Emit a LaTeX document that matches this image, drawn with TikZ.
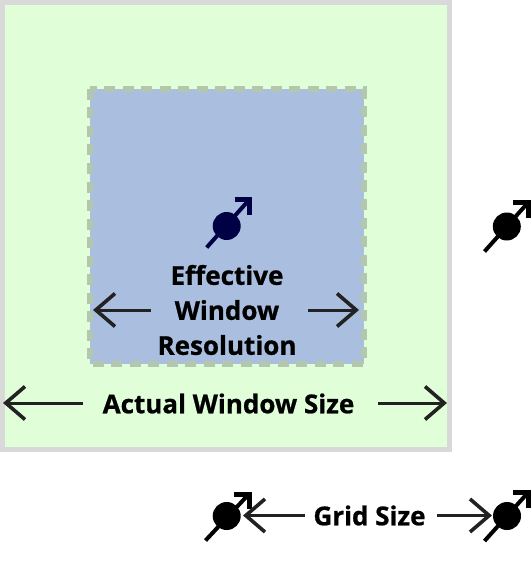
\documentclass[tikz,border=0pt]{standalone}
\usepackage{fontspec}
\setmainfont{Open Sans}[BoldFeatures={FakeBold=0.8}]
\usetikzlibrary{arrows.meta}
\definecolor{winfill}{HTML}{E0FFD8}
\definecolor{winedge}{HTML}{D9D9D9}
\definecolor{effill}{HTML}{AABFE0}
\definecolor{efedge}{HTML}{B3C7AE}
\definecolor{navy}{HTML}{000044}
\definecolor{ink}{HTML}{222222}
\pgfdeclarearrow{
  name=OpenVee,
  setup code={
    \pgfarrowssettipend{0pt}
    \pgfarrowssetlineend{-3pt}
    \pgfarrowssetbackend{-23pt}
    \pgfarrowssetvisualbackend{-3pt}
    \pgfarrowshullpoint{0pt}{0pt}
    \pgfarrowshullpoint{-23pt}{17pt}
    \pgfarrowshullpoint{-23pt}{-17pt}
  },
  drawing code={
    \pgfsetdash{}{0pt}
    \pgfsetmiterjoin
    \pgfsetbuttcap
    \pgfsetlinewidth{3.6pt}
    \pgfpathmoveto{\pgfpoint{-22pt}{16.5pt}}
    \pgfpathlineto{\pgfpoint{-2.8pt}{0pt}}
    \pgfpathlineto{\pgfpoint{-22pt}{-16.5pt}}
    \pgfusepathqstroke
  },
}
\tikzset{
  x=1pt,y=-1pt,
  actual/.style={draw=winedge,fill=winfill,line width=5pt},
  effective/.style={draw=efedge,fill=effill,line width=6pt,dash pattern=on 11pt off 7.5pt},
  measure/.style={draw=ink,line width=3pt,-{OpenVee}},
  lab/.style={font=\bfseries\fontsize{26pt}{35pt}\selectfont,text=black,inner sep=0pt,align=center},
  atom/.style={circle,fill=#1,inner sep=0pt,minimum size=28pt},
  stem/.style={draw=#1,line width=4pt,line cap=butt},
  spinhead/.style={draw=#1,line width=5pt,miter limit=10},
}
% name, centre, colour, tail end, corner of the head
\newcommand{\spinatom}[5]{%
  \node[atom=#3] (#1) at (#2) {};
  \draw[stem=#3] (#4) -- ([shift={(-1,1)}]#5);
  \draw[spinhead=#3] ([shift={(-15,0)}]#5) -- (#5) -- ([shift={(0,15)}]#5);
}
\begin{document}
\begin{tikzpicture}
\useasboundingbox (0,0) rectangle (531,564);
\draw[actual] (2.5,2.5) rectangle (449,449);
\draw[effective] (90,89) rectangle (364,364);
\spinatom{a1}{226.7,226}{navy}{206.7,247.5}{249.5,199.5}
\spinatom{a2}{506.8,226.5}{black}{484.5,251.5}{528.2,202.5}
\spinatom{a3}{226.7,516}{black}{205.5,540.5}{249,494}
\spinatom{a4}{507,516}{black}{484.5,541}{528.2,492.5}
\node[lab] (eff) at (227,310) {Effective\\Window\\Resolution};
\node[lab] (act) at (228.5,403.5) {Actual Window Size};
\node[lab] (grid) at (369.5,515.5) {Grid Size};
\coordinate (e1) at (151,310); \coordinate (e2) at (93,310);
\coordinate (e3) at (308,310); \coordinate (e4) at (359,310);
\coordinate (f1) at (83,403); \coordinate (f2) at (3,403);
\coordinate (f3) at (378,403); \coordinate (f4) at (447,403);
\coordinate (g1) at (305,515.5); \coordinate (g2) at (243,515.5);
\coordinate (g3) at (437,515.5); \coordinate (g4) at (492,515.5);
\draw[measure] (e1) -- (e2);
\draw[measure] (e3) -- (e4);
\draw[measure] (f1) -- (f2);
\draw[measure] (f3) -- (f4);
\draw[measure] (g1) -- (g2);
\draw[measure] (g3) -- (g4);
\end{tikzpicture}
\end{document}
